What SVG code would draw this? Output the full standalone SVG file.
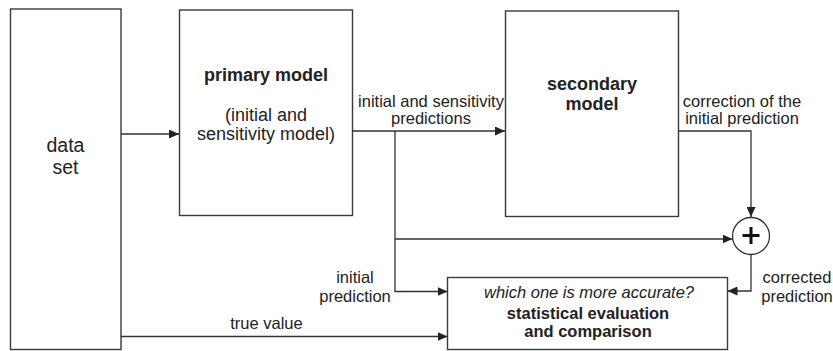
<svg xmlns="http://www.w3.org/2000/svg" width="833" height="351" viewBox="0 0 833 351">
<style>
.box{fill:#fff;stroke:#3a3a3a;stroke-width:1.4}
.line{fill:none;stroke:#333;stroke-width:1.3}
text{font-family:"Liberation Sans",Arial,sans-serif;fill:#222;text-anchor:middle}
.big{font-size:19.5px}
.mid{font-size:18px}
.lbl{font-size:16.5px}
.b{font-weight:bold}
.i{font-style:italic}
</style>
<defs>
<marker id="arr" markerUnits="userSpaceOnUse" markerWidth="10" markerHeight="9" refX="10" refY="4.5" orient="auto">
<path d="M0,0 L10,4.5 L0,9 z" fill="#222"/>
</marker>
</defs>
<rect width="833" height="351" fill="#fff"/>
<g id="connectors">
<path class="line" d="M121 134 H179" marker-end="url(#arr)"/>
<path class="line" d="M352.5 131 H505" marker-end="url(#arr)"/>
<path class="line" d="M395 131 V291.5 H447.5" marker-end="url(#arr)"/>
<path class="line" d="M395 239 H732.5" marker-end="url(#arr)"/>
<path class="line" d="M678.5 131 H751 V217" marker-end="url(#arr)"/>
<path class="line" d="M751 254.5 V291 H727.5" marker-end="url(#arr)"/>
<path class="line" d="M121 336.5 H447.5" marker-end="url(#arr)"/>
<text class="lbl" x="431" y="107">initial and sensitivity</text>
<text class="lbl" x="431" y="124">predictions</text>
<text class="lbl" x="742" y="106.5">correction of the</text>
<text class="lbl" x="742" y="124">initial prediction</text>
<text class="lbl" x="355" y="283">initial</text>
<text class="lbl" x="355" y="301.5">prediction</text>
<text class="lbl" x="797" y="283">corrected</text>
<text class="lbl" x="797" y="301.5">prediction</text>
<text class="lbl" x="266.5" y="329">true value</text>
</g>
<g id="dataset">
<rect class="box" x="10.5" y="9" width="110.5" height="340.5"/>
<text class="big" x="65.5" y="152">data</text>
<text class="big" x="65.5" y="173.5">set</text>
</g>
<g id="primary">
<rect class="box" x="179.5" y="10" width="173" height="205.5"/>
<text class="mid b" x="266" y="81">primary model</text>
<text class="mid" x="266" y="120.5">(initial and</text>
<text class="mid" x="266" y="139.5">sensitivity model)</text>
</g>
<g id="secondary">
<rect class="box" x="505.5" y="11" width="173" height="205.5"/>
<text class="mid b" x="592" y="89.5">secondary</text>
<text class="mid b" x="592" y="109.5">model</text>
</g>
<g id="sum">
<circle cx="751" cy="236" r="18.5" fill="#fff" stroke="#333" stroke-width="1.3"/>
<path d="M742.5 235.5 H759.5 M751 227 V244" stroke="#111" stroke-width="3" fill="none"/>
</g>
<g id="evaluation">
<rect class="box" x="447.5" y="277.5" width="280" height="72"/>
<text class="lbl i" x="589" y="298">which one is more accurate?</text>
<text class="lbl b" x="588" y="319">statistical evaluation</text>
<text class="lbl b" x="588" y="337">and comparison</text>
</g>
</svg>
